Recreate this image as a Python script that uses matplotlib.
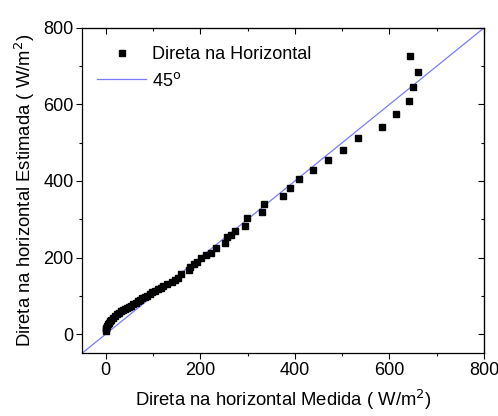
import matplotlib
matplotlib.use('Agg')
import matplotlib.pyplot as plt
from matplotlib.ticker import MultipleLocator

plt.rcParams['font.family'] = ['Liberation Sans', 'DejaVu Sans']

# measured vs. estimated direct horizontal irradiance (W/m2)
medida = [0, 0, 1, 2, 4, 6, 9, 12, 15, 19, 23, 27, 32, 36, 41, 45, 49, 54,
          58, 63, 68, 72, 77, 82, 88, 93, 98, 104, 111, 116, 122, 130, 139,
          146, 153, 158, 176, 179, 186, 192, 202, 212, 222, 234, 253, 257,
          265, 273, 294, 299, 331, 335, 375, 390, 409, 438, 469, 501, 534,
          584, 614, 642, 649, 661, 643]
estimada = [8, 13, 17, 21, 25, 29, 34, 38, 43, 47, 52, 55, 59, 62, 65, 68,
            71, 74, 78, 82, 87, 90, 94, 97, 100, 104, 111, 113, 117, 121, 126,
            130, 135, 140, 146, 158, 167, 176, 182, 187, 199, 206, 212, 224,
            238, 253, 260, 268, 283, 303, 318, 339, 360, 381, 404, 429, 454,
            482, 512, 541, 575, 608, 646, 686, 727]
linha_45 = [-50, 800]

fig = plt.figure(figsize=(4.98, 4.16), dpi=100)
ax = fig.add_axes([0.165, 0.151, 0.807, 0.782])

ax.plot(medida, estimada, 's', color='black', markersize=5,
        label='Direta na Horizontal', zorder=3)
ax.plot(linha_45, linha_45, '-', color='#7b7bff', linewidth=0.9,
        label='45$^\\mathrm{o}$', zorder=2)

ax.set_xlim(-50, 800)
ax.set_ylim(-50, 800)


def set_ticks(axis):
    axis.set_major_locator(MultipleLocator(200))
    axis.set_minor_locator(MultipleLocator(100))


# left/bottom ticks point out, top/right ticks point in
set_ticks(ax.xaxis)
set_ticks(ax.yaxis)
ax.tick_params(which='both', direction='out', labelsize=13, width=0.8,
               pad=2)
ax.tick_params(which='major', length=4)
ax.tick_params(which='minor', length=2.5)

top = ax.secondary_xaxis('top')
right = ax.secondary_yaxis('right')
set_ticks(top.xaxis)
set_ticks(right.yaxis)
for sec in (top, right):
    sec.tick_params(which='both', direction='in', labelleft=False,
                    labelright=False, labeltop=False, labelbottom=False,
                    width=0.8)
    sec.tick_params(which='major', length=4)
    sec.tick_params(which='minor', length=2.5)

for s in ax.spines.values():
    s.set_linewidth(0.9)

ax.set_xlabel('Direta na horizontal Medida ( W/m$^2$)', fontsize=13.3,
              labelpad=7)
ax.set_ylabel('Direta na horizontal Estimada ( W/m$^2$)', fontsize=13.3,
              labelpad=5)

ax.legend(loc='upper left', bbox_to_anchor=(0.02, 0.965), borderaxespad=0,
          frameon=False, fontsize=13, handlelength=2.7, handletextpad=0.3,
          labelspacing=0.45)

fig.savefig('out.png', dpi=100)
